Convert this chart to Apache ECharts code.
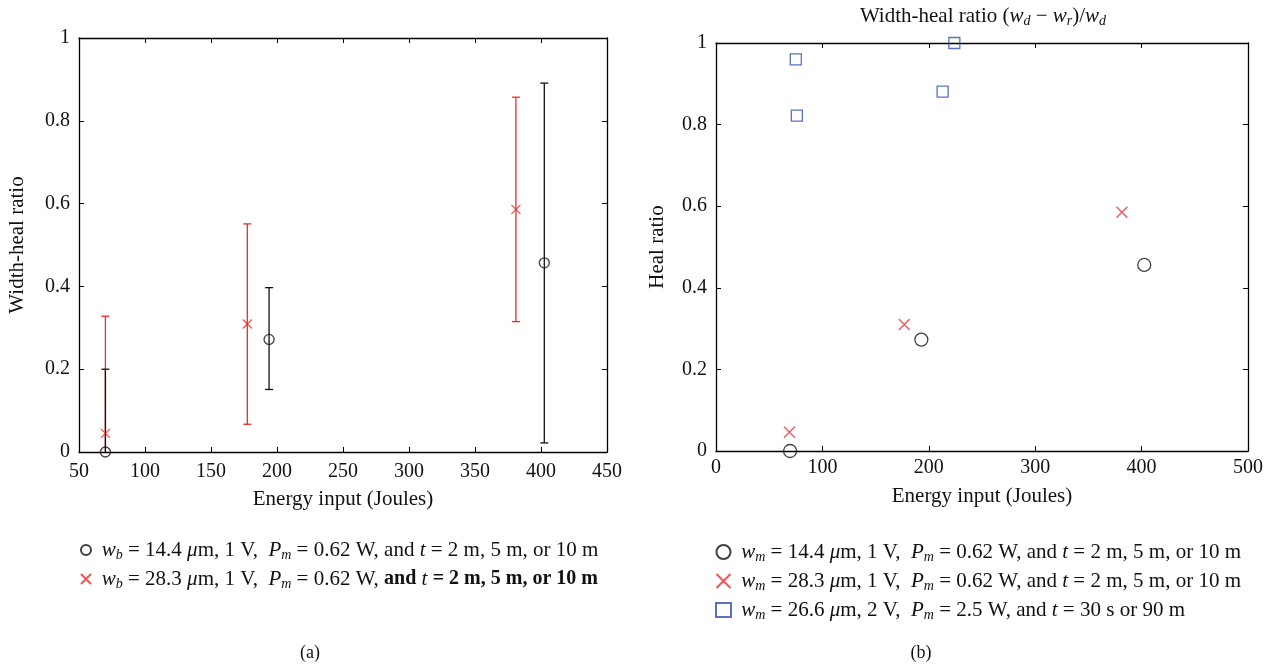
<!DOCTYPE html>
<html>
<head>
<meta charset="utf-8">
<script src="https://cdn.jsdelivr.net/npm/echarts@6/dist/echarts.min.js"></script>
<style>
html, body { margin: 0; padding: 0; background: #fff; }
#chart { width: 1274px; height: 667px; }
</style>
</head>
<body>
<div id="chart"></div>
<script>
// (a) 宽度愈合比，带误差棒  [x, y] 和 [x, low, high]
var aCircle = [[70, 0], [194, 0.272], [402.5, 0.457]];
var aCircleErr = [[70, -0.2, 0.2], [194, 0.151, 0.397], [402.5, 0.022, 0.891]];
var aCross = [[70, 0.045], [177.5, 0.309], [381, 0.586]];
var aCrossErr = [[70, -0.238, 0.328], [177.5, 0.067, 0.551], [381, 0.315, 0.857]];

// (b) 愈合比
var bCircle = [[69.6, 0], [193, 0.273], [402.5, 0.456]];
var bCross = [[69, 0.046], [177, 0.31], [381.5, 0.585]];
var bSquare = [[75, 0.96], [76, 0.822], [213, 0.881], [224, 1.0]];

// 坐标轴范围 [min, max, interval]
var aXRange = [50, 450, 50];
var bXRange = [0, 500, 100];
var yRange = [0, 1, 0.2];

var legendText = {
    a1: ' {i|w}{sub|b} = 14.4 {i|μ}m, 1 V,  {i|P}{sub|m} = 0.62 W, and {i|t} = 2 m, 5 m, or 10 m',
    a2: ' {i|w}{sub|b} = 28.3 {i|μ}m, 1 V,  {i|P}{sub|m} = 0.62 W, {b|and} {i|t} {b|= 2 m, 5 m, or 10 m}',
    b1: ' {i|w}{sub|m} = 14.4 {i|μ}m, 1 V,  {i|P}{sub|m} = 0.62 W, and {i|t} = 2 m, 5 m, or 10 m',
    b2: ' {i|w}{sub|m} = 28.3 {i|μ}m, 1 V,  {i|P}{sub|m} = 0.62 W, and {i|t} = 2 m, 5 m, or 10 m',
    b3: ' {i|w}{sub|m} = 26.6 {i|μ}m, 2 V,  {i|P}{sub|m} = 2.5 W, and {i|t} = 30 s or 90 m'
};

var FONT = '"Liberation Serif", "DejaVu Serif", serif';
var RED = '#f02828';
var BLACK = '#111';
var BLUE = '#2f4fb0';
var CROSS = 'path://M0,0L10,10M10,0L0,10';
var FS = 20;   // 刻度
var LFS = 21;  // 图例、轴名

var rich = {
    i: { fontStyle: 'italic', fontFamily: FONT, fontSize: LFS, lineHeight: 24, color: '#111' },
    sub: { fontStyle: 'italic', fontFamily: FONT, fontSize: 14, lineHeight: 14, verticalAlign: 'bottom', color: '#111' },
    b: { fontWeight: 'bold', fontFamily: FONT, fontSize: 20, lineHeight: 24, color: '#111' }
};

var chart = echarts.init(document.getElementById('chart'));

function xAxisOf(gi, r, pos, showName, gap, margin) {
    return {
        type: 'value', gridIndex: gi, position: pos, min: r[0], max: r[1], interval: r[2],
        name: showName ? 'Energy input (Joules)' : '', nameLocation: 'middle', nameGap: gap,
        nameTextStyle: { fontFamily: FONT, fontSize: LFS, color: '#111' },
        axisLine: { show: true, onZero: false, lineStyle: { color: '#000', width: 1.3 } },
        axisTick: { show: true, inside: true, length: 5, lineStyle: { color: '#000' } },
        axisLabel: { show: showName, fontFamily: FONT, fontSize: FS, color: '#111', margin: margin },
        splitLine: { show: false }
    };
}

function yAxisOf(gi, pos, name, gap, margin) {
    return {
        type: 'value', gridIndex: gi, position: pos, min: yRange[0], max: yRange[1], interval: yRange[2],
        name: name, nameLocation: 'middle', nameGap: gap,
        nameTextStyle: { fontFamily: FONT, fontSize: LFS, color: '#111' },
        axisLine: { show: true, onZero: false, lineStyle: { color: '#000', width: 1.3 } },
        axisTick: { show: true, inside: true, length: 5, lineStyle: { color: '#000' } },
        axisLabel: { show: !!name, fontFamily: FONT, fontSize: FS, color: '#111', margin: margin },
        splitLine: { show: false }
    };
}

// 误差棒
function errBar(color) {
    return function (params, api) {
        var x = api.value(0);
        var lo = api.coord([x, api.value(1)]);
        var hi = api.coord([x, api.value(2)]);
        var w = 4;
        var st = { stroke: color, lineWidth: 1.3 };
        return {
            type: 'group',
            children: [
                { type: 'line', shape: { x1: lo[0], y1: lo[1], x2: hi[0], y2: hi[1] }, style: st },
                { type: 'line', shape: { x1: hi[0] - w, y1: hi[1], x2: hi[0] + w, y2: hi[1] }, style: st },
                { type: 'line', shape: { x1: lo[0] - w, y1: lo[1], x2: lo[0] + w, y2: lo[1] }, style: st }
            ]
        };
    };
}

var option = {
    backgroundColor: '#fff',
    animation: false,
    title: [
        { text: 'Width-heal ratio ({i|w}{sub|d} − {i|w}{sub|r})/{i|w}{sub|d}', left: 983, top: 4, padding: 0, textAlign: 'center',
          textStyle: { fontFamily: FONT, fontSize: 21, fontWeight: 'normal', color: '#111', lineHeight: 24,
                       rich: { i: { fontStyle: 'italic', fontFamily: FONT, fontSize: 21, lineHeight: 24, color: '#111' },
                               sub: rich.sub } } },
        { text: '(a)', left: 310, top: 644, padding: 0, textAlign: 'center',
          textStyle: { fontFamily: FONT, fontSize: 18, fontWeight: 'normal', color: '#111' } },
        { text: '(b)', left: 921, top: 644, padding: 0, textAlign: 'center',
          textStyle: { fontFamily: FONT, fontSize: 18, fontWeight: 'normal', color: '#111' } }
    ],
    legend: [
        { data: ['a1', 'a2'], orient: 'vertical', left: 75, top: 533, itemGap: 5, itemWidth: 11, itemHeight: 10,
          formatter: function (n) { return legendText[n]; },
          textStyle: { fontFamily: FONT, fontSize: LFS, lineHeight: 24, color: '#111', rich: rich } },
        { data: ['b1', 'b2', 'b3'], orient: 'vertical', left: 710, top: 535, itemGap: 5, itemWidth: 15, itemHeight: 14,
          formatter: function (n) { return legendText[n]; },
          textStyle: { fontFamily: FONT, fontSize: LFS, lineHeight: 24, color: '#111', rich: rich } }
    ],
    grid: [
        { left: 79, top: 38, width: 528, height: 414 },
        { left: 716, top: 43, width: 532, height: 408 }
    ],
    xAxis: [
        xAxisOf(0, aXRange, 'bottom', true, 37, 10),
        xAxisOf(0, aXRange, 'top', false, 0, 0),
        xAxisOf(1, bXRange, 'bottom', true, 35, 7),
        xAxisOf(1, bXRange, 'top', false, 0, 0)
    ],
    yAxis: [
        yAxisOf(0, 'left', 'Width-heal ratio', 51, 9),
        yAxisOf(0, 'right', '', 0, 8),
        yAxisOf(1, 'left', 'Heal ratio', 48, 9),
        yAxisOf(1, 'right', '', 0, 8)
    ],
    series: [
        { type: 'custom', xAxisIndex: 0, yAxisIndex: 0, data: aCrossErr, renderItem: errBar(RED), clip: true, silent: true },
        { type: 'custom', xAxisIndex: 0, yAxisIndex: 0, data: aCircleErr, renderItem: errBar(BLACK), clip: true, silent: true },
        { name: 'a1', type: 'scatter', xAxisIndex: 0, yAxisIndex: 0, data: aCircle, symbol: 'circle', symbolSize: 10,
          itemStyle: { color: 'rgba(0,0,0,0)', borderColor: BLACK, borderWidth: 1.3 }, clip: false },
        { name: 'a2', type: 'scatter', xAxisIndex: 0, yAxisIndex: 0, data: aCross, symbol: CROSS, symbolSize: 9,
          itemStyle: { color: 'rgba(0,0,0,0)', borderColor: RED, borderWidth: 1.3 }, clip: false },
        { name: 'b1', type: 'scatter', xAxisIndex: 2, yAxisIndex: 2, data: bCircle, symbol: 'circle', symbolSize: 13,
          itemStyle: { color: 'rgba(0,0,0,0)', borderColor: BLACK, borderWidth: 1.3 }, clip: false },
        { name: 'b2', type: 'scatter', xAxisIndex: 2, yAxisIndex: 2, data: bCross, symbol: CROSS, symbolSize: 11,
          itemStyle: { color: 'rgba(0,0,0,0)', borderColor: RED, borderWidth: 1.3 }, clip: false },
        { name: 'b3', type: 'scatter', xAxisIndex: 2, yAxisIndex: 2, data: bSquare, symbol: 'rect', symbolSize: 11,
          itemStyle: { color: 'rgba(0,0,0,0)', borderColor: BLUE, borderWidth: 1.3 }, clip: false }
    ]
};

chart.setOption(option);
</script>
</body>
</html>
